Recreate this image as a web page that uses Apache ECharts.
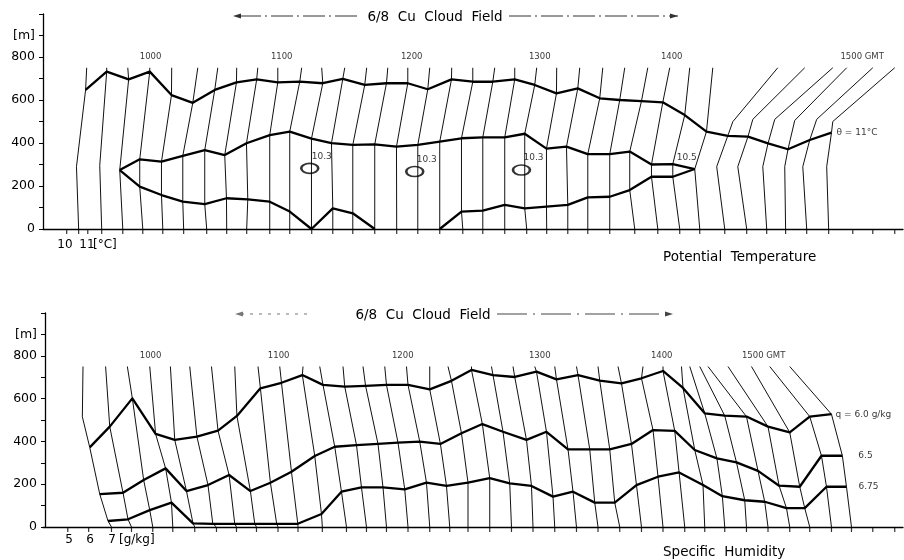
<!DOCTYPE html>
<html>
<head>
<meta charset="utf-8">
<script src="https://cdn.jsdelivr.net/npm/echarts@6/dist/echarts.min.js"></script>
<style>
  html, body { margin: 0; padding: 0; background: #fff; }
  #chart { width: 904px; height: 560px; }
</style>
</head>
<body>
<div id="chart"></div>
<script>
// x axis: minutes after 10:00 GMT (position of each sounding along the time axis)
// y axis: height above ground [m]

// ---------- Potential temperature panel: 36 soundings ----------
const thetaBase = [-33.6,-23.0,-13.3,-4.1,5.1,14.7,25.3,34.5,43.7,54.3,63.5,73.6,83.3,92.5,102.6,112.7,122.4,132.5,143.1,152.3,162.4,172.5,181.7,191.4,200.6,210.7,222.2,232.8,242.9,252.1,263.6,273.7,282.9,291.6,301.3,311.4];
const thetaTop = [-29.9,-20.7,-11.0,-0.9,9.2,21.2,30.4,39.1,48.8,58.0,69.0,78.2,88.8,98.9,108.6,117.8,127.9,138.0,147.7,157.8,167.0,177.1,186.3,196.9,207.5,217.6,228.2,238.3,247.5,258.1,288.0,300.4,313.3,319.7,331.7,341.8];
// theta = 11 °C isoline
const theta11X = [-30.4,-20.7,-10.6,-0.9,9.1,18.9,29.0,39.0,48.3,58.0,68.1,78.7,87.9,98.0,108.0,117.8,127.0,137.9,147.7,156.9,167.0,176.2,186.2,196.0,206.1,215.3,225.3,235.1,245.2,255.2,265.0,274.3,283.5,292.7,302.7,312.7];
const theta11H = [647,732,696,732,623,587,647,682,696,682,685,678,698,670,678,678,650,696,685,685,696,670,631,654,608,600,595,589,530,453,433,430,398,371,414,448];
// theta = 10.5 °C isoline, upper branch
const theta105UpX = [null,null,-14.7,-5.5,4.5,14.3,24.4,33.6,43.6,54.3,63.5,73.5,82.7,92.5,102.6,112.6,122.4,132.5,142.5,152.3,162.4,171.6,181.6,190.8,200.6,210.7,219.9,229.9,239.7,249.8,null,null,null,null,null,null];
const theta105UpH = [null,null,274,324,313,340,367,344,399,437,453,420,399,391,394,383,391,406,422,426,426,443,374,383,348,348,360,300,302,279,null,null,null,null,null,null];
// theta = 10.5 °C isoline, lower branch
const theta105LoX = [null,null,-14.7,-5.5,4.5,14.3,24.4,34.4,44.2,54.3,63.5,73.5,83.3,92.5,102.6,null,null,132.5,142.5,152.3,162.4,171.6,181.6,191.4,200.6,210.7,219.9,229.9,239.7,249.8,null,null,null,null,null,null];
const theta105LoH = [null,null,274,197,158,127,116,143,138,127,81,0,96,73,0,null,null,0,81,85,112,96,104,112,147,150,181,243,243,279,null,null,null,null,null,null];
// extra bends of single soundings: [sounding index, x, height]
const thetaBends = [[0,-34.6,290],[1,-23.9,295],[30,259.9,290],[30,267.3,499],[31,269.6,290],[31,276.5,510],[32,281.1,290],[32,286.6,510],[33,291.2,290],[33,295.8,505],[34,299.5,290],[34,305.9,510],[35,310.5,290],[35,313.3,500]];
// small closed 10.3 °C cells
const cellX = [72.7, 121.0, 170.1];
const cellH = [282, 267, 274];
const cellText = '10.3';
const theta105LabelPos = [246.1, 330];
const thetaExtraTicks = [-39.1, -29.4, 322.5, 331.7, 341.8];

// ---------- Specific humidity panel: 36 soundings ----------
const humBase = [-18.5,-9.3,0.5,9.7,19.8,29.8,39.0,48.2,58.1,67.3,78.5,89.6,98.8,108.0,117.9,127.9,137.1,145.5,155.5,165.5,175.4,185.4,195.4,205.3,215.3,225.3,235.2,245.2,254.4,263.6,273.6,283.5,293.5,302.7,312.7,321.9];
const humTop = [-31.6,-21.2,-11.2,-0.9,8.6,17.5,27.5,38.2,48.9,58.9,69.6,77.3,88.0,97.2,107.2,117.2,127.9,136.3,147.1,156.3,166.2,176.2,185.4,195.4,205.3,214.5,226.0,235.2,243.7,247.5,252.1,255.9,265.1,275.9,284.3,293.5];
// q = 6.0 g/kg
const q60X = [-28.5,-19.3,-8.9,1.8,10.6,20.8,30.5,39.2,50.0,59.7,69.3,78.8,88.8,98.4,108.0,117.9,127.9,137.9,147.1,157.0,167.0,177.0,186.2,196.1,206.1,216.1,225.3,235.2,244.4,254.4,263.6,273.6,283.5,293.5,302.7,312.7];
const q60H = [372,469,601,435,407,422,450,519,648,674,710,664,656,659,664,664,643,683,734,710,701,726,690,710,684,671,695,729,650,531,520,516,469,442,516,527];
// q = 6.5 g/kg
const q65X = [-23.9,-13.2,-3.7,6.4,16.0,25.9,35.6,45.4,54.6,64.3,75.0,84.2,94.2,104.1,113.3,123.3,132.8,142.5,152.1,161.6,172.4,181.6,191.5,201.5,210.7,220.7,230.6,240.6,249.8,260.0,269.0,278.9,288.6,298.1,308.1,317.7];
const q65H = [154,160,220,274,168,196,243,168,207,258,332,375,383,388,394,399,388,438,481,445,407,445,363,363,363,388,453,449,360,321,302,262,193,188,333,333];
// q = 6.75 g/kg
const q675X = [-20.1,-10.9,-0.9,9.1,19.0,28.1,38.2,47.4,57.5,67.2,78.1,87.3,96.5,106.4,116.4,126.4,135.6,145.5,155.5,164.7,174.7,184.6,193.8,203.8,213.0,223.0,232.9,242.6,253.6,262.5,272.8,282.0,292.0,300.4,310.4,319.6];
const q675H = [28,36,79,114,17,15,15,15,15,15,61,165,185,185,176,207,192,207,228,204,192,142,165,114,114,196,235,255,196,144,125,118,88,88,188,188];
const humBends = [[0,-31.9,515]];
const humExtraTicks = [-38.6, -29.0, 331.7, 341.8];
const qLabels = ['q = 6.0 g/kg', '6.5', '6.75'];

// ---------- time marks ----------
const hourLabels = ['1000', '1100', '1200', '1300', '1400', '1500 GMT'];
const thetaHourPos = [-0.5, 59.8, 119.6, 178.5, 239.2, 326.8];
const humHourPos = [-0.5, 58.4, 115.5, 178.5, 234.6, 281.5];
const hourLabelHeight = 800;
const profileTopHeight = 750;

const X_MIN = -50, X_MAX = 345.6;
const FONT = 'DejaVu Sans';
const smallLabel = { color: '#000', fontSize: 9, fontFamily: FONT, textBorderWidth: 0, textBorderColor: 'transparent', textShadowBlur: 0 };

// one polyline per sounding through its base, isoline crossings, bends and top
function profileLines(base, top, isolines, bends) {
  return base.map((b, i) => {
    const pts = [[b, 0], [top[i], profileTopHeight]];
    isolines.forEach(([xs, hs]) => { if (hs[i] != null) pts.push([xs[i], hs[i]]); });
    bends.filter(d => d[0] === i).forEach(d => pts.push([d[1], d[2]]));
    pts.sort((a, c) => a[1] - c[1]);
    return { coords: pts };
  });
}
// contiguous pieces of an isoline (gaps where it is absent)
function runs(xs, hs) {
  const out = []; let cur = [];
  xs.forEach((x, i) => {
    if (hs[i] == null) { if (cur.length > 1) out.push({ coords: cur }); cur = []; }
    else cur.push([x, hs[i]]);
  });
  if (cur.length > 1) out.push({ coords: cur });
  return out;
}

const thetaIso = [[theta11X, theta11H], [theta105UpX, theta105UpH], [theta105LoX, theta105LoH]];
const humIso = [[q60X, q60H], [q65X, q65H], [q675X, q675H]];

function panelSeries(p, base, top, iso, bends, extraTicks, hourPos) {
  const axes = { xAxisIndex: p, yAxisIndex: p };
  let isoPieces = [];
  iso.forEach(([xs, hs]) => { isoPieces = isoPieces.concat(runs(xs, hs)); });
  return [
    Object.assign({
      type: 'lines', coordinateSystem: 'cartesian2d', polyline: true, silent: true,
      data: profileLines(base, top, iso, bends),
      lineStyle: { color: '#111', width: 1, opacity: 1 }, z: 2
    }, axes),
    Object.assign({
      type: 'lines', coordinateSystem: 'cartesian2d', polyline: true, silent: true,
      data: isoPieces,
      lineStyle: { color: '#000', width: 2.3, opacity: 1, join: 'round' }, z: 3
    }, axes),
    Object.assign({
      type: 'scatter', silent: true, clip: false,
      symbol: 'rect', symbolSize: [1.2, 5], symbolOffset: [0, 2.5],
      itemStyle: { color: '#000' },
      data: base.concat(extraTicks).map(x => [x, 0]), z: 4
    }, axes),
    Object.assign({
      type: 'scatter', silent: true, clip: false, symbolSize: 0,
      itemStyle: { color: '#000' },
      data: hourLabels.map((t, i) => ({ name: t, value: [hourPos[i], hourLabelHeight] })),
      label: Object.assign({ show: true, position: 'inside', formatter: '{b}' }, smallLabel, { fontSize: 8.5 })
    }, axes)
  ];
}

const series = []
  .concat(panelSeries(0, thetaBase, thetaTop, thetaIso, thetaBends, thetaExtraTicks, thetaHourPos))
  .concat(panelSeries(1, humBase, humTop, humIso, humBends, humExtraTicks, humHourPos));

// closed 10.3 cells
series.push({
  type: 'scatter', xAxisIndex: 0, yAxisIndex: 0, silent: true,
  symbol: 'circle', symbolSize: [17, 10],
  itemStyle: { color: 'rgba(0,0,0,0)', borderColor: '#000', borderWidth: 2 },
  data: cellX.map((x, i) => [x, cellH[i]]),
  label: Object.assign({ show: true, position: 'inside', offset: [12, -12], formatter: cellText }, smallLabel),
  z: 5
});

// isoline labels
const last = thetaBase.length - 1;
series.push({
  type: 'scatter', xAxisIndex: 0, yAxisIndex: 0, silent: true, clip: false, symbolSize: 0,
  itemStyle: { color: '#000' },
  data: [
    { name: 'θ = 11°C', value: [theta11X[last], theta11H[last]], label: { position: 'right', distance: 5 } },
    { name: '10.5', value: theta105LabelPos, label: { position: 'inside' } }
  ],
  label: Object.assign({ show: true, formatter: '{b}' }, smallLabel)
});
const hl = humBase.length - 1;
series.push({
  type: 'scatter', xAxisIndex: 1, yAxisIndex: 1, silent: true, clip: false, symbolSize: 0,
  itemStyle: { color: '#000' },
  data: [
    { name: qLabels[0], value: [q60X[hl], q60H[hl]], label: { distance: 4 } },
    { name: qLabels[1], value: [q65X[hl], q65H[hl]], label: { distance: 16 } },
    { name: qLabels[2], value: [q675X[hl], q675H[hl]], label: { distance: 12 } }
  ],
  label: Object.assign({ show: true, position: 'right', formatter: '{b}' }, smallLabel)
});

function xAxis(p) {
  return {
    type: 'value', gridIndex: p, min: X_MIN, max: X_MAX,
    axisLine: { show: true, onZero: false, lineStyle: { color: '#000', width: 1.3 } },
    axisTick: { show: false }, axisLabel: { show: false }, splitLine: { show: false }
  };
}
function yAxis(p, offset) {
  return {
    type: 'value', gridIndex: p, min: 0, max: 1000, interval: 100, offset: offset,
    axisLine: { show: true, onZero: false, lineStyle: { color: '#000', width: 1.3 } },
    axisTick: { show: true, length: 4, lineStyle: { color: '#000', width: 1 } },
    axisLabel: {
      color: '#000', fontSize: 12.5, fontFamily: FONT, margin: 8,
      formatter: v => v === 900 ? '[m]' : (v <= 800 && v % 200 === 0 ? String(v) : '')
    },
    splitLine: { show: false }
  };
}

function txt(x, y, text, opts) {
  return {
    type: 'text', x: x, y: y,
    style: Object.assign({ text: text, fill: '#000', font: '12px "' + FONT + '"', textVerticalAlign: 'middle' }, opts || {})
  };
}
function arrow(x1, x2, y, dash, color, headAt) {
  const dir = headAt === x1 ? 1 : -1;
  return [
    { type: 'line', shape: { x1: x1 + dir * 6, y1: y, x2: x2, y2: y }, style: { stroke: color, lineWidth: 1, lineDash: dash } },
    { type: 'polygon', shape: { points: [[headAt, y], [headAt + dir * 8, y - 2.5], [headAt + dir * 8, y + 2.5]] }, style: { fill: color } }
  ];
}

const big = '13.5px "' + FONT + '"';
const graphic = [
  txt(435, 17, '6/8  Cu  Cloud  Field', { textAlign: 'center', font: big }),
  txt(423, 315, '6/8  Cu  Cloud  Field', { textAlign: 'center', font: big }),
  txt(663, 257, 'Potential  Temperature', { font: big }),
  txt(663, 552, 'Specific  Humidity', { font: big }),
  txt(65, 245, '10', { textAlign: 'center' }),
  txt(87, 245, '11', { textAlign: 'center' }),
  txt(93, 245, '[°C]'),
  txt(69, 540, '5', { textAlign: 'center' }),
  txt(90, 540, '6', { textAlign: 'center' }),
  txt(112, 540, '7', { textAlign: 'center' }),
  txt(119, 540, '[g/kg]')
]
  .concat(arrow(233, 358, 16, [22, 4, 2, 4], '#333', 233))
  .concat(arrow(515, 678, 16, [22, 4, 2, 4], '#333', 678))
  .concat(arrow(235, 310, 314, [3, 6], '#777', 235))
  .concat(arrow(503, 673, 314, [30, 6, 2, 6], '#444', 673));

const chart = echarts.init(document.getElementById('chart'), null, { renderer: 'canvas' });
chart.setOption({
  animation: false,
  backgroundColor: '#fff',
  grid: [
    { left: 43, right: 1, top: 14, height: 215 },
    { left: 43, right: 1, top: 313, height: 214 }
  ],
  xAxis: [xAxis(0), xAxis(1)],
  yAxis: [yAxis(0, 0), yAxis(1, -2)],
  series: series,
  graphic: graphic
});
</script>
</body>
</html>
